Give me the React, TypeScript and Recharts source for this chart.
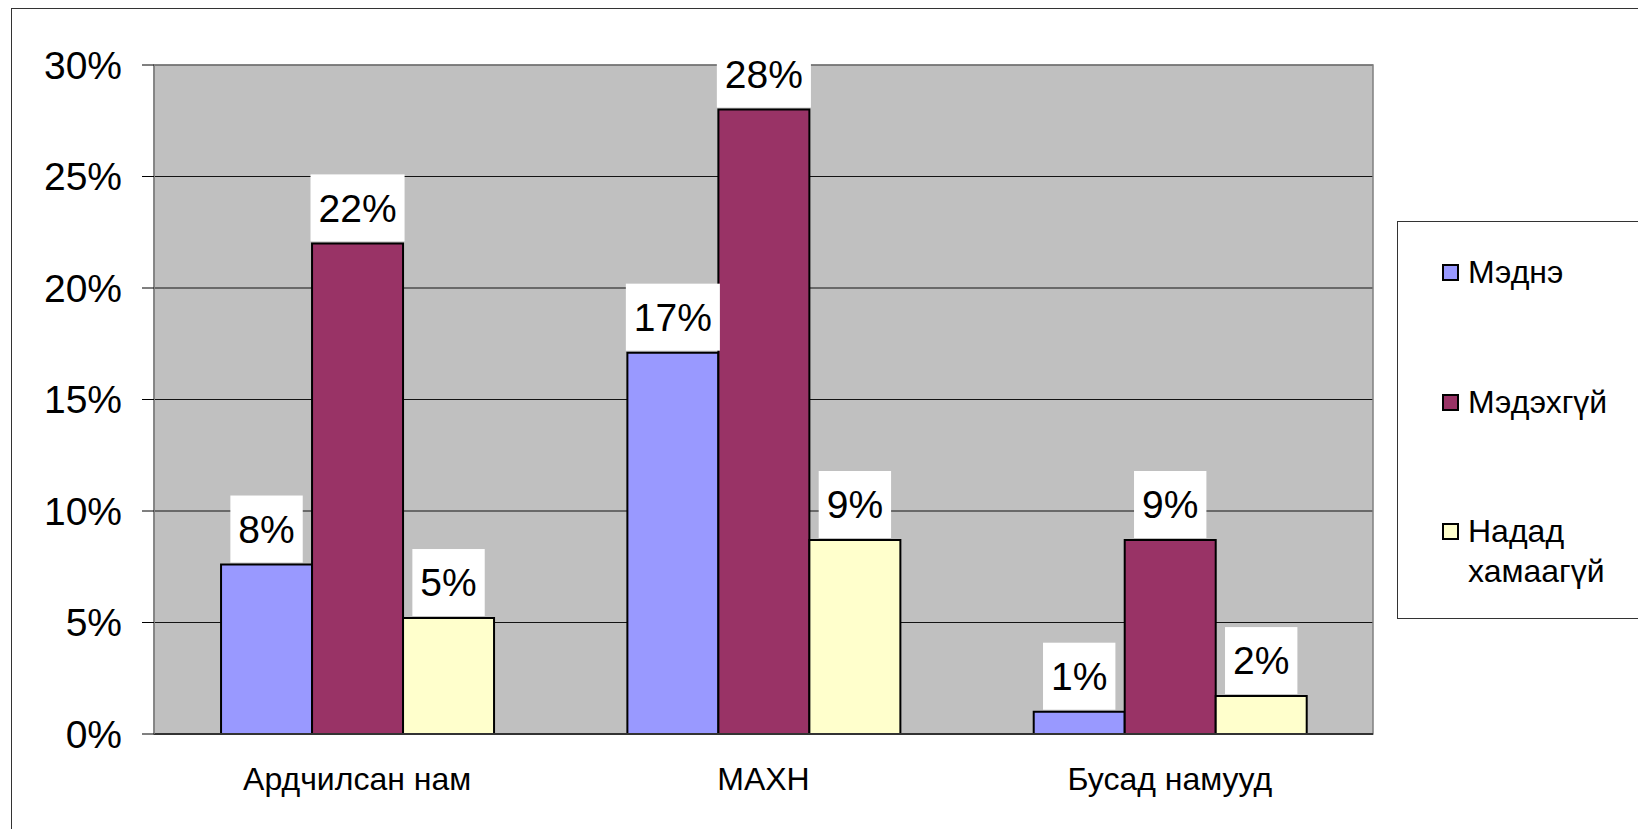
import React from 'react'
import {
  BarChart,
  Bar,
  XAxis,
  YAxis,
  CartesianGrid,
  LabelList,
  ReferenceArea
} from 'recharts'

const categories = ['Ардчилсан нам', 'МАХН', 'Бусад намууд']
const seriesNames = ['Мэднэ', 'Мэдэхгүй', 'Надад хамаагүй']
const mednePct = [7.6, 17.1, 1.0]
const medekhguiPct = [22.0, 28.0, 8.7]
const khamaaguiPct = [5.2, 8.7, 1.7]
const yTicks = [0, 5, 10, 15, 20, 25, 30]
const edgeTicks = [0, 1, 2, 3]

const colors = ['#9999FF', '#993366', '#FFFFCC']
const keys = ['medne', 'medekhgui', 'khamaagui']

const data = categories.map((name, i) => ({
  name,
  medne: mednePct[i],
  medekhgui: medekhguiPct[i],
  khamaagui: khamaaguiPct[i]
}))

const FONT = '"Liberation Sans", Arial, Helvetica, sans-serif'

let measureCtx: CanvasRenderingContext2D | null = null
const textWidth = (s: string, size: number) => {
  if (!measureCtx) measureCtx = document.createElement('canvas').getContext('2d')
  if (!measureCtx) return s.length * size * 0.6
  measureCtx.font = `${size}px ${FONT}`
  return measureCtx.measureText(s).width
}

const ValueLabel = (props: any) => {
  const { x, y, width, value } = props
  const text = `${Math.round(value)}%`
  const w = textWidth(text, 39) + 16
  const h = 67
  const cx = x + width / 2
  const bottom = y - 2
  return (
    <g>
      <rect x={cx - w / 2} y={bottom - h} width={w} height={h} fill="#ffffff" />
      <text
        x={cx}
        y={bottom - h / 2}
        dy="0.355em"
        textAnchor="middle"
        fontSize={39}
        fontFamily={FONT}
        fill="#000"
      >
        {text}
      </text>
    </g>
  )
}

const legendTop = [30, 160, 289]

export default function App() {
  return (
    <div
      style={{
        position: 'fixed',
        left: 0,
        top: 0,
        width: 1638,
        height: 829,
        overflow: 'hidden',
        background: '#fff'
      }}
    >
      <div
        style={{
          position: 'absolute',
          left: 11,
          top: 8,
          width: 1800,
          height: 1000,
          border: '1px solid #333'
        }}
      />
      <div style={{ position: 'absolute', left: 0, top: 0 }}>
        <BarChart
          width={1638}
          height={829}
          data={data}
          margin={{ top: 65, right: 265, left: 0, bottom: 0 }}
          barCategoryGap="16.5%"
          barGap={0}
        >
          <CartesianGrid
            xAxisId="b_cat"
            vertical={false}
            fill="#C0C0C0"
            fillOpacity={1}
            stroke="#000"
            strokeOpacity={0.9}
          />
          <ReferenceArea
            xAxisId="b_cat"
            y1={0}
            y2={30}
            fill="none"
            stroke="#808080"
            strokeWidth={1.5}
            ifOverflow="visible"
          />
          <XAxis
            xAxisId="b_cat"
            dataKey="name"
            height={94}
            axisLine={false}
            tickLine={false}
            tickSize={0}
            tickMargin={32}
            tick={{ fontSize: 32, fontFamily: FONT, fill: '#000' }}
          />
          <XAxis
            xAxisId="a_edges"
            type="number"
            domain={[0, 3]}
            ticks={edgeTicks}
            tick={false}
            tickSize={10}
            height={1}
            allowDataOverflow
            axisLine={{ stroke: '#333', strokeWidth: 2 }}
            tickLine={{ stroke: '#333' }}
          />
          <YAxis
            width={154}
            domain={[0, 30]}
            ticks={yTicks}
            interval={0}
            tickFormatter={(v: number) => `${v}%`}
            tickSize={12}
            tickMargin={20}
            axisLine={{ stroke: '#808080', strokeWidth: 1.5 }}
            tickLine={{ stroke: '#000' }}
            tick={{ fontSize: 39, fontFamily: FONT, fill: '#000' }}
          />
          {keys.map((k, i) => (
            <Bar
              key={k}
              xAxisId="b_cat"
              dataKey={k}
              name={seriesNames[i]}
              fill={colors[i]}
              stroke="#000"
              strokeWidth={2}
              isAnimationActive={false}
            >
              <LabelList dataKey={k} content={<ValueLabel />} />
            </Bar>
          ))}
        </BarChart>
      </div>
      <div
        style={{
          position: 'absolute',
          left: 1397,
          top: 221,
          width: 400,
          height: 396,
          border: '1px solid #333',
          background: '#fff',
          fontFamily: FONT,
          fontSize: 32,
          color: '#000'
        }}
      >
        {seriesNames.map((n, i) => (
          <div
            key={n}
            style={{
              position: 'absolute',
              left: 44,
              top: legendTop[i],
              display: 'flex',
              alignItems: 'flex-start',
              lineHeight: '40px'
            }}
          >
            <span
              style={{
                display: 'inline-block',
                width: 13,
                height: 13,
                marginTop: 12,
                marginRight: 9,
                background: colors[i],
                border: '2px solid #000'
              }}
            />
            <span style={{ width: 160 }}>{n}</span>
          </div>
        ))}
      </div>
    </div>
  )
}
